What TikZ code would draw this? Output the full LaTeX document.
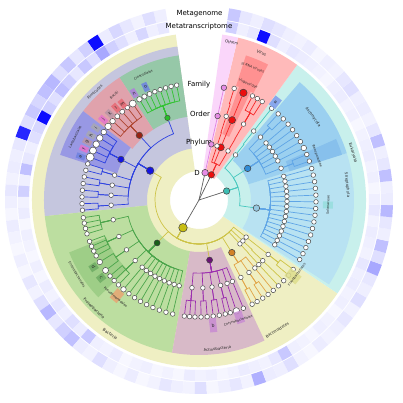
\documentclass[tikz,border=0pt]{standalone}
\usepackage{fontspec}
\setmainfont{DejaVu Sans}
\definecolor{cBac}{RGB}{239,239,195}
\definecolor{cEuk}{RGB}{200,240,236}
\definecolor{cVir}{RGB}{255,186,186}
\definecolor{cVirB}{RGB}{255,145,145}
\definecolor{cOth}{RGB}{250,214,250}
\definecolor{cFirm}{RGB}{197,198,222}
\definecolor{cClos}{RGB}{150,200,168}
\definecolor{cBaci}{RGB}{224,162,172}
\definecolor{cLact}{RGB}{152,152,228}
\definecolor{cProt}{RGB}{188,222,160}
\definecolor{cProtB}{RGB}{158,206,135}
\definecolor{cActi}{RGB}{216,186,200}
\definecolor{cAsco}{RGB}{155,208,240}
\definecolor{cAscoB}{RGB}{135,192,236}
\definecolor{cStre}{RGB}{184,226,242}
\definecolor{nBac}{RGB}{200,190,20}
\definecolor{nFirm}{RGB}{20,20,225}
\definecolor{nClos}{RGB}{40,190,40}
\definecolor{nBaci}{RGB}{150,35,20}
\definecolor{nProt}{RGB}{25,95,25}
\definecolor{nActi}{RGB}{105,20,115}
\definecolor{nBacd}{RGB}{210,130,40}
\definecolor{nEuk}{RGB}{60,190,180}
\definecolor{nStre}{RGB}{150,200,225}
\definecolor{nAsco}{RGB}{50,140,215}
\definecolor{nVir}{RGB}{235,15,15}
\definecolor{nOth}{RGB}{230,140,230}
\definecolor{lBac}{RGB}{205,195,70}
\definecolor{lFirm}{RGB}{45,65,225}
\definecolor{lClos}{RGB}{50,195,50}
\definecolor{lBaci}{RGB}{175,70,50}
\definecolor{lProt}{RGB}{75,165,75}
\definecolor{lActi}{RGB}{155,45,175}
\definecolor{lBacd}{RGB}{225,165,70}
\definecolor{lEuk}{RGB}{70,200,190}
\definecolor{lEukB}{RGB}{95,165,230}
\definecolor{lVir}{RGB}{245,40,40}
\definecolor{lOth}{RGB}{225,130,225}
\definecolor{lRoot}{RGB}{95,95,95}
\definecolor{leafE}{RGB}{75,75,75}
\definecolor{bxBlue}{RGB}{110,130,225}
\definecolor{bxPurp}{RGB}{175,125,220}
\definecolor{bxRed}{RGB}{232,105,115}
\definecolor{bxMauv}{RGB}{185,150,165}
\definecolor{bxPink}{RGB}{230,115,205}
\definecolor{bxGrey}{RGB}{168,168,178}
\definecolor{bxGreen}{RGB}{110,172,100}
\definecolor{bxAct}{RGB}{200,140,210}
\definecolor{bxOra}{RGB}{232,165,115}
\definecolor{bxOli}{RGB}{222,222,140}
\definecolor{bxTeal}{RGB}{150,222,222}
\definecolor{bxA}{RGB}{125,155,235}
\pgfdeclarelayer{bgl}
\pgfdeclarelayer{edg}
\pgfsetlayers{bgl,edg,main}
\tikzset{
  leaf/.style={circle, draw=leafE, fill=white, line width=0.5pt, inner sep=0pt, minimum size=4.6pt},
  dom/.style={circle, draw=black!75, line width=0.5pt, inner sep=0pt, minimum size=6.5pt},
  lnRoot/.style={draw=lRoot, line width=0.7pt},
  lnBac/.style={draw=lBac, line width=0.7pt},
  lnFirm/.style={draw=lFirm, line width=0.7pt},
  lnClos/.style={draw=lClos, line width=0.7pt},
  lnBaci/.style={draw=lBaci, line width=0.7pt},
  lnProt/.style={draw=lProt, line width=0.7pt},
  lnActi/.style={draw=lActi, line width=0.7pt},
  lnBacd/.style={draw=lBacd, line width=0.7pt},
  lnEuk/.style={draw=lEuk, line width=0.7pt},
  lnEukB/.style={draw=lEukB, line width=0.7pt},
  lnVir/.style={draw=lVir, line width=0.7pt},
  lnOth/.style={draw=lOth, line width=0.7pt},
  lab/.style={inner sep=0pt, text=black!85},
  lbx/.style={rectangle, inner sep=0pt, fill opacity=0.85, text opacity=1, font=\fontsize{4.5}{4.5}\selectfont, text=black!85},
  lvl/.style={inner sep=0pt, font=\fontsize{7}{8}\selectfont, text=black}
}
\newcommand\annsec[5]{\fill[#1] (#2:#4) arc[start angle=#2,end angle=#3,radius=#4] -- (#3:#5) arc[start angle=#3,end angle=#2,radius=#5] -- cycle;}
\newcommand\brc[6]{\begin{pgfonlayer}{edg}\draw[#1] (#2) -- (#4:#6) arc[start angle=#4,end angle=#5,radius=#6] -- (#3);\end{pgfonlayer}}
\newcommand\clade[8]{%
  \pgfmathsetmacro\rmid{#4+0.45*(88-#4)}%
  \foreach \oa/\ls [count=\k] in {#8}{%
    \node[leaf,#7] (#1o\k) at (\oa:88) {};
    \brc{#5}{#2}{#1o\k}{#3}{\oa}{\rmid}%
    \foreach \la/\sz [count=\j] in \ls {%
      \node[leaf, minimum size=\sz pt] (#1l\k-\j) at (\la:117) {};
      \brc{#6}{#1o\k}{#1l\k-\j}{\oa}{\la}{101}%
    }%
  }%
}
\newcommand\tlab[5]{%
  \pgfmathsetmacro\rotv{ifthenelse(mod(#2+720,360)<180,#2-90,#2+90)}%
  \node[lab, font=\fontsize{#4}{#4}\selectfont, rotate=\rotv] (#1) at (#2:#3) {#5};}
\newcommand\lbox[7]{%
  \pgfmathsetmacro\rotv{ifthenelse(mod(#2+720,360)<180,#2-90,#2+90)}%
  \node[lbx, fill=#4, minimum width=#5pt, minimum height=#6pt, rotate=\rotv] (#1) at (#2:#3) {#7};}
\newcommand\hcell[4]{% value, index, r1, r2
  \pgfmathsetmacro\hA{100+3.59*#2}\pgfmathsetmacro\hB{100+3.59*(#2+1)}%
  \pgfmathsetmacro\hw{ifthenelse(#1<60,0.62*#1,#1)}%
  \annsec{blue!\hw!white}{\hA}{\hB}{#3}{#4}}
\begin{document}
\begin{tikzpicture}[x=1pt,y=1pt]
\useasboundingbox (-199,-202) rectangle (204,200);
\begin{pgfonlayer}{bgl}
\fill[white] (-199,-202) rectangle (204,200);
% heatmap: Metagenome (outer)
\foreach \v [count=\i from 0] in {10,20,8,15,25,12,95,30,15,35,
 20,45,40,25,35,20,85,15,10,12,
 8,15,10,6,12,8,5,10,6,15,
 8,20,45,15,30,40,12,8,20,10,
 6,12,5,8,15,10,8,20,6,10,
 15,8,50,12,10,20,8,5,12,8,
 10,15,8,20,10,15,55,20,40,10,
 15,45,12,10,40,15,10,40,15,8,
 12,10,20,15,8,10,6,12,8,10,
 15,20,10,15,35}{\hcell{\v}{\i}{182}{194}}
% heatmap: Metatranscriptome (inner)
\foreach \v [count=\i from 0] in {15,10,25,10,20,30,55,20,35,15,
 30,40,20,30,95,25,20,10,15,40,
 10,30,8,12,5,10,8,5,10,6,
 12,8,15,10,20,12,35,10,8,12,
 5,8,10,6,8,5,12,8,10,6,
 8,12,10,8,15,35,10,8,6,10,
 8,5,10,8,12,10,15,8,10,12,
 8,15,10,6,10,8,12,10,8,5,
 10,8,12,10,6,8,10,12,15,10,
 20,95,15,10,30}{\hcell{\v}{\i}{170}{181}}
% domains
\annsec{cBac}{98}{326}{29}{167}
\annsec{cEuk}{326}{414}{29}{167}
\annsec{cVir}{54}{76.5}{26}{167}
\annsec{cOth}{76.5}{82}{26}{167}
% phyla
\annsec{cFirm}{98}{186}{52}{155}
\annsec{cProt}{186}{260}{52}{155}
\annsec{cActi}{260}{295}{52}{155}
\annsec{cStre}{-33}{17.6}{52}{155}
\annsec{cAsco}{17.6}{49.5}{52}{155}
% sub clades
\annsec{cClos}{98}{123}{84}{146}
\annsec{cBaci}{123}{142.5}{84}{146}
\annsec{cLact}{142.5}{162}{86}{146}
\annsec{cProtB}{202}{224}{100}{140}
\annsec{cAscoB}{17.6}{24}{95}{150}
\annsec{cVirB}{63}{72}{120}{152}
\annsec{cVirB}{64.5}{70.5}{70}{120}
\end{pgfonlayer}
% level labels
\node[lvl] (hMG) at (0.5,186) {Metagenome};
\node[lvl] (hMT) at (0,173.5) {Metatranscriptome};
\node[lvl] (lvF) at (0,115) {Family};
\node[lvl] (lvO) at (1,86) {Order};
\node[lvl] (lvP) at (0,57) {Phylum};
\node[lvl] (lvD) at (-2,27) {D};
% root and domains
\coordinate (root) at (0,0);
\node[dom, fill=nBac, minimum size=8.5pt] (bac) at (240:32) {};
\node[dom, fill=nEuk] (euk) at (18:29) {};
\node[dom, fill=nVir] (vir) at (64:28) {};
\node[dom, fill=nOth] (oth) at (77.5:28) {};
\begin{pgfonlayer}{edg}
\draw[lnRoot] (root) -- (bac);
\draw[lnRoot] (root) -- (euk);
\draw[lnRoot] (root) -- (vir);
\draw[lnRoot] (root) -- (oth);
\end{pgfonlayer}
% Bacteria phyla
\node[dom, fill=nFirm, minimum size=7.5pt] (firm) at (149:57) {};
\node[dom, fill=nProt, minimum size=6pt] (prot) at (225.7:60) {};
\node[dom, fill=nActi, minimum size=6pt] (acti) at (280:61) {};
\node[dom, fill=nBacd, minimum size=6.5pt] (bacd) at (302:62) {};
\node[leaf] (bx1) at (313:60) {};
\node[leaf] (bx2) at (317:60) {};
\node[leaf] (bx3) at (321.8:60) {};
\brc{lnBac}{bac}{firm}{240}{149}{44}
\brc{lnBac}{bac}{prot}{240}{225.7}{44}
\brc{lnBac}{bac}{acti}{240}{280}{44}
\brc{lnBac}{bac}{bacd}{240}{302}{44}
\brc{lnBac}{bac}{bx1}{240}{313}{44}
\brc{lnBac}{bac}{bx2}{240}{317}{44}
\brc{lnBac}{bac}{bx3}{240}{321.8}{44}
% Firmicutes
\clade{fc}{firm}{149}{57}{lnFirm}{lnClos}{fill=nClos, draw=black!70, minimum size=5.5pt}{111/{101/4.6,103.8/4.6,106.6/4.6,109.4/4.6,112.2/4.6,115/5,117.8/5.2,120.6/5.5}}
\clade{fb}{firm}{149}{57}{lnFirm}{lnBaci}{fill=nBaci, draw=black!70, minimum size=6.5pt}{132.7/{124.5/7,127.8/4.6,131/5,134.3/5,137.6/5.5,141/6.5}}
\clade{fl}{firm}{149}{57}{lnFirm}{lnFirm}{fill=nFirm, draw=black!70, minimum size=6.5pt}{152.5/{144.5/5.5,148/6.5,151.5/6.5,155/7,158.5/8}}
\clade{fo}{firm}{149}{57}{lnFirm}{lnFirm}{}{163.6/{162/4.6,165.3/4.6},170.3/{168.6/4.6,171.9/4.6},176.9/{175.2/4.6,178.5/4.6},183.4/{181.8/4.6,185/4.6}}
% Proteobacteria
\clade{pr}{prot}{225.7}{60}{lnProt}{lnProt}{}{193/{188.7/4.6,191.4/4.6,194.1/4.6,196.8/4.6},204.5/{200.7/4.6,203.3/4.6,205.9/4.6,208.5/4.6},214.5/{212/5.5,217/6},223.5/{220.5/4.6,223.5/4.6,226.5/4.6},229.8/{229.8/5.5},233.2/{233.2/4.6},236.6/{236.6/4.6},240/{240/4.6},243.4/{243.4/4.6},246.8/{246.8/4.6},250.2/{250.2/4.6},253.6/{253.6/4.6},257/{257/4.6}}
% Actinobacteria
\clade{ac}{acti}{280}{61}{lnActi}{lnActi}{}{265.4/{262.8/4.6,265.4/4.6,268/4.6},272.5/{271/4.6,274/4.6},278.5/{277/4.6,280/4.6},284.2/{283/4.6,285.5/4.6},288.6/{288.6/6.5},292.3/{292.3/4.6}}
% Bacteroidetes and other bacteria
\clade{bd}{bacd}{302}{62}{lnBacd}{lnBacd}{}{298.4/{297/4.6,299.8/4.6},304.6/{303/4.6,306.2/4.6},309.4/{309.4/4.6}}
\clade{xa}{bx1}{313}{60}{lnBac}{lnBac}{}{312.8/{312.8/4.6}}
\clade{xb}{bx2}{317}{60}{lnBac}{lnBac}{}{316.4/{316.4/4.6}}
\clade{xc}{bx3}{321.8}{60}{lnBac}{lnBac}{}{321.8/{320/4.6,323.6/4.6}}
% Eukaryota
\node[dom, fill=nStre] (strep) at (-8:58) {};
\node[dom, fill=nAsco] (asco) at (33:58) {};
\node[leaf] (ex1) at (51:58) {};
\brc{lnEuk}{euk}{strep}{18}{-8}{41}
\brc{lnEuk}{euk}{asco}{18}{33}{41}
\brc{lnEuk}{euk}{ex1}{18}{51}{41}
\clade{st}{strep}{-8}{58}{lnEukB}{lnEukB}{}{-30.6/{-30.6/4.6},-27.3/{-27.3/4.6},-24/{-24/4.6},-20.7/{-20.7/4.6},-17.4/{-17.4/4.6},-14.1/{-14.1/4.6},-10.8/{-10.8/4.6},-7.5/{-7.5/4.6},-4.2/{-4.2/4.6},-0.9/{-0.9/4.6},2.4/{2.4/4.6},5.7/{5.7/4.6},9/{9/4.6},12.3/{12.3/4.6},15.6/{15.6/4.6}}
\clade{as}{asco}{33}{58}{lnEukB}{lnEukB}{}{21.15/{19.4/4.6,22.9/4.6},26.4/{26.4/5.5},29.9/{29.9/4.6},33.4/{33.4/4.6},36.9/{36.9/4.6},40.4/{40.4/4.6},45.65/{43.9/4.6,47.4/4.6}}
\clade{ea}{ex1}{51}{58}{lnEuk}{lnEuk}{}{51.6/{51.6/4.6}}
% Virus
\node[dom, fill=nVir, minimum size=7pt] (vp1) at (67.5:57) {};
\node[leaf] (vp2) at (59.4:57) {};
\node[leaf] (vp3) at (71.6:57) {};
\brc{lnVir}{vir}{vp1}{64}{67.5}{40}
\brc{lnVir}{vir}{vp2}{64}{59.4}{40}
\brc{lnVir}{vir}{vp3}{64}{71.6}{40}
\node[dom, fill=nVir, minimum size=7pt] (vo1) at (67.5:86.5) {};
\node[dom, fill=nVir, minimum size=7.5pt] (vl1) at (67.5:116) {};
\brc{lnVir}{vp1}{vo1}{67.5}{67.5}{70}
\brc{lnVir}{vo1}{vl1}{67.5}{67.5}{100}
\clade{vb}{vp2}{59.4}{57}{lnVir}{lnVir}{}{59.6/{57.3/4.6,60.1/4.6,62.8/4.6}}
\clade{vc}{vp3}{71.6}{57}{lnVir}{lnVir}{}{72/{72.5/4.6}}
% Others
\node[dom, fill=nOth, minimum size=5.5pt] (othp) at (77.5:57) {};
\node[dom, fill=nOth, minimum size=5.5pt] (otho) at (77.5:86) {};
\node[dom, fill=nOth, minimum size=5.5pt] (othl) at (77.5:115) {};
\begin{pgfonlayer}{edg}
\draw[lnOth] (oth) -- (othp);
\draw[lnOth] (othp) -- (otho);
\draw[lnOth] (otho) -- (othl);
\end{pgfonlayer}
% letter boxes
\lbox{bo}{115.3}{125}{bxBlue}{5.5}{9}{o}
\lbox{bn}{121.3}{125}{bxPurp}{5.5}{9}{n}
\lbox{bm}{128.5}{123}{bxRed}{5.5}{9}{m}
\lbox{bl}{132}{124}{bxRed}{5.5}{9}{l}
\lbox{bk}{136}{124}{bxMauv}{5.5}{9}{k}
\lbox{bj}{140}{125}{bxPink}{5.5}{9}{j}
\lbox{bi}{145}{126}{bxGrey}{5.5}{9}{i}
\lbox{bh}{149}{126}{bxGrey}{5.5}{9}{h}
\lbox{bg}{152.5}{126}{bxMauv}{5.5}{9}{g}
\lbox{bf}{156}{126}{bxPink}{5.5}{9}{f}
\lbox{be}{159.8}{126}{bxBlue}{5.5}{9}{e}
\lbox{bd}{212.5}{125}{bxGreen}{7}{8}{d}
\lbox{bc}{218.5}{125}{bxGreen}{7}{8}{c}
\lbox{bb}{276.4}{126}{bxAct}{7}{14}{b}
\lbox{bbx}{289}{124}{bxAct}{8}{12}{}
\lbox{ba}{52}{124}{bxA}{8}{11}{a}
\lbox{bfl}{321}{121}{bxOli}{10}{14}{}
\lbox{bso}{-2.2}{129}{bxTeal}{7}{10}{}
\lbox{bps}{229.4}{126}{bxOra}{9}{12}{}
% clade labels
\tlab{tBac}{236.5}{161}{4}{Bacteria}
\tlab{tEuk}{17}{161}{4}{Eukaryota}
\tlab{tVir}{67}{160}{4}{Virus}
\tlab{tOth}{78.3}{161}{4}{Others}
\tlab{tFirm}{134}{150}{3.8}{Firmicutes}
\tlab{tProt}{226}{151}{3.8}{Proteobacteria}
\tlab{tActi}{277}{150}{3.8}{Actinobacteria}
\tlab{tBacd}{301}{152}{3.8}{Bacteroidetes}
\tlab{tAsco}{36}{141}{3.8}{Ascomycota}
\tlab{tStre}{5.8}{149}{3.8}{Streptophyta}
\tlab{tSsr}{67.9}{143}{3.3}{ss RNA viruses}
\tlab{tClos}{114}{137}{3.3}{Clostridiales}
\tlab{tBaci}{129}{135}{3.3}{Bacilli}
\tlab{tLact}{153}{139}{3.3}{Lactobacillales}
\tlab{tEnte}{211.5}{143}{3.3}{Enterobacteriales}
\tlab{tPseu}{229.4}{128}{3.3}{Pseudomonadales}
\tlab{tCory}{288}{127}{3.3}{Corynebacteriales}
\tlab{tFlav}{322.7}{123}{3.3}{Flavobacteriales}
\tlab{tPleo}{20.4}{126}{3.3}{Pleosporaceae}
\tlab{tSola}{-2.2}{129}{3.3}{Solanaceae}
\tlab{tVirg}{67}{126}{3.3}{Virgaviridae}
\end{tikzpicture}
\end{document}
